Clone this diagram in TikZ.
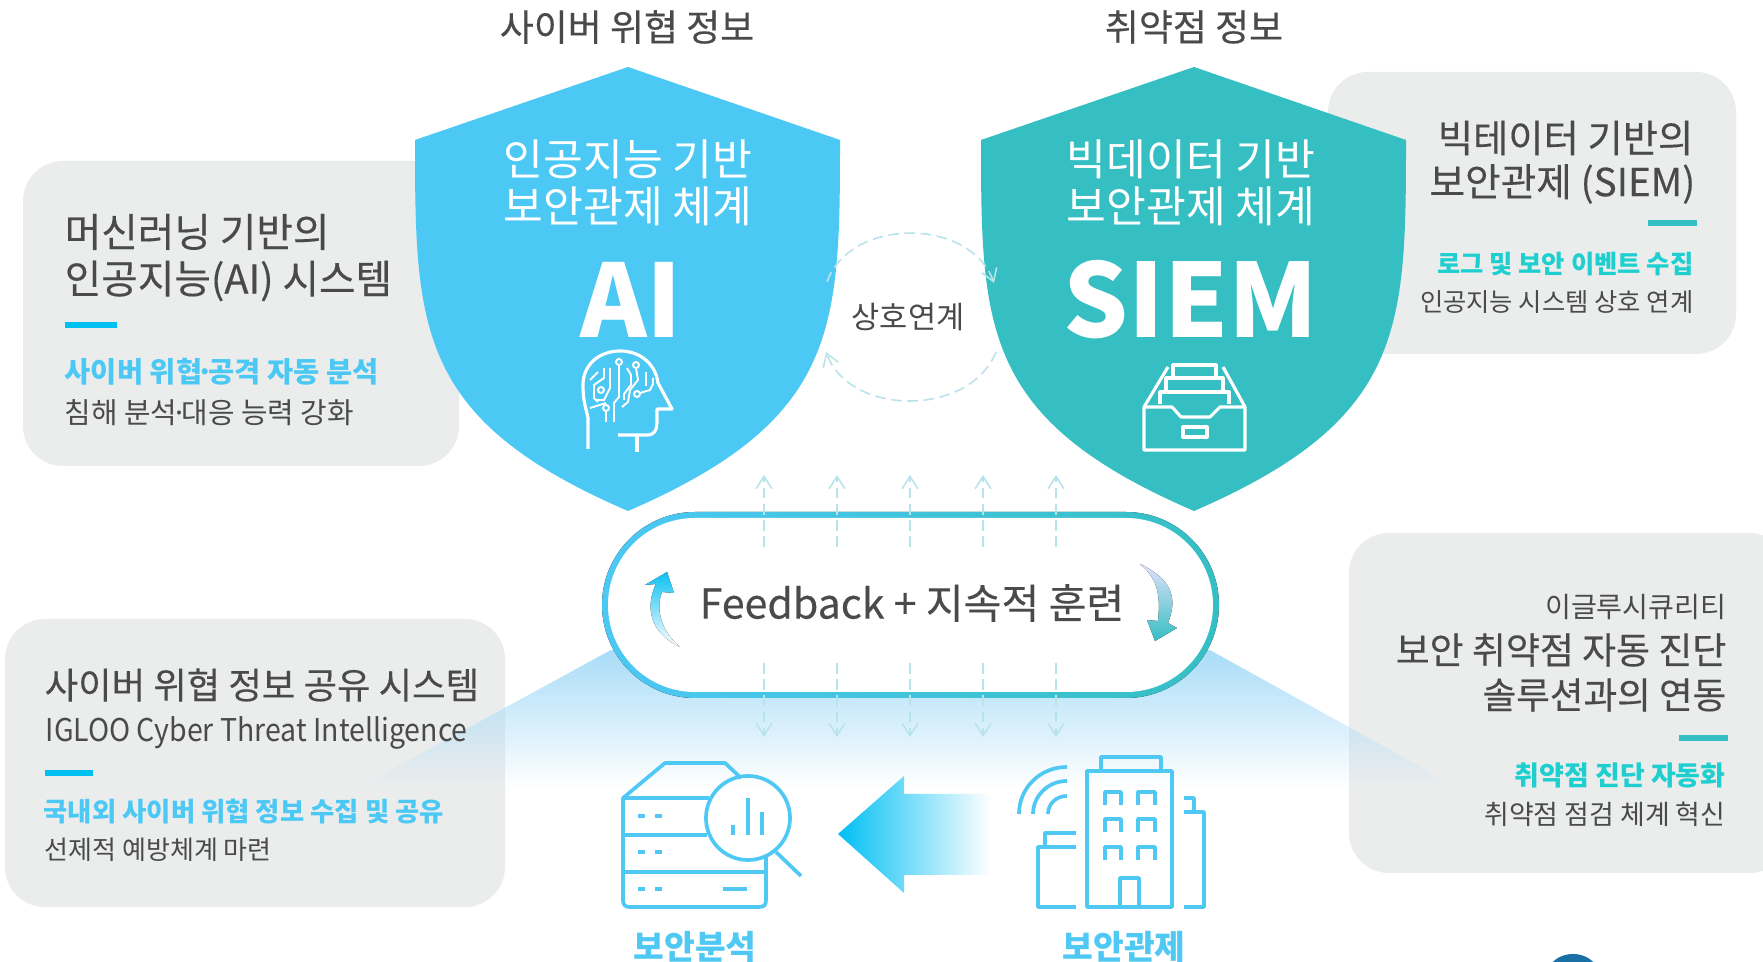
\documentclass[tikz,border=0pt]{standalone}
\usepackage{fontspec}
\setmainfont{Noto Sans CJK KR}
\usepackage{xcolor}
\usetikzlibrary{arrows.meta,fadings}
\definecolor{boxgray}{HTML}{EBEDED}
\definecolor{txtgray}{HTML}{4A4A4A}
\definecolor{aiblue}{HTML}{4CC8F4}
\definecolor{siemteal}{HTML}{35BFC3}
\definecolor{barblue}{HTML}{00BFF3}
\definecolor{subteal}{HTML}{1FCFCF}
\definecolor{iconblue}{HTML}{4FC9F3}
\definecolor{flowteal}{HTML}{B9E3EA}
\definecolor{glowblue}{HTML}{A9DDF8}
\definecolor{dotblue}{HTML}{1A6FA5}
\pgfdeclarehorizontalshading{arrowfade}{100bp}{color(0bp)=(barblue); color(25bp)=(barblue); color(72bp)=(white); color(100bp)=(white)}
\newcommand{\fz}[1]{\fontsize{#1}{#1}\selectfont}
\newcommand{\hv}{\addfontfeatures{FakeBold=0.3}}
\newcommand{\tightdot}{\kern-.2em·\kern-.2em}
\tikzset{
  graybox/.style={fill=boxgray,rounded corners=0.4cm},
  txtleft/.style={anchor=west,inner sep=0pt,text=txtgray},
  txtright/.style={anchor=east,inner sep=0pt,text=txtgray},
  txtmid/.style={inner sep=0pt,text=txtgray},
  txtshield/.style={inner sep=0pt,text=white},
  flowline/.style={flowteal,line width=0.45pt,dash pattern=on 3pt off 1.6pt},
  flowtip/.style={-{Straight Barb[length=3.5pt,width=4.5pt]}},
  icon/.style={iconblue,line width=1.05pt,line join=round},
  iconw/.style={white,line width=0.9pt,line join=round},
  circuit/.style={white,line width=0.55pt}
}
\begin{document}
\begin{tikzpicture}[x=0.01cm,y=-0.01cm]
  \clip (0,0) rectangle (1763,962);
  \fill[white] (0,0) rectangle (1763,962);

  \fill[graybox] (23,161) rectangle (459,466);
  \fill[graybox] (1328,72) rectangle (1736,354);
  \fill[graybox] (1349,533) rectangle (1790,873);
  \fill[graybox] (5,619) rectangle (505,907);
  \fill[glowblue,path fading=south] (611,650) -- (360,787) -- (1457,787) -- (1210,650) -- cycle;

  \fill[aiblue] (628,67) -- (840,140) .. controls (840,330) and (838,420) .. (628,511)
    .. controls (417,420) and (415,330) .. (415,140) -- cycle;
  \fill[siemteal] (1194,67) -- (1406,140) .. controls (1406,330) and (1404,420) .. (1194,511)
    .. controls (983,420) and (981,330) .. (981,140) -- cycle;

  \node[txtmid] (titleAI) at (627,27) {\fz{10.5}\hv 사이버 위협 정보};
  \node[txtmid] (titleSIEM) at (1194,27) {\fz{10.5}\hv 취약점 정보};

  \node[txtshield] (aiOne) at (628,159) {\fz{12.3}인공지능 기반};
  \node[txtshield] (aiTwo) at (628,206) {\fz{12.3}보안관제 체계};
  \node[txtshield] (aiBig) at (631,300) {\fz{28.7}\bfseries AI};
  \node[txtshield] (siemOne) at (1191,159) {\fz{12.3}빅데이터 기반};
  \node[txtshield] (siemTwo) at (1191,206) {\fz{12.3}보안관제 체계};
  \node[txtshield] (siemBig) at (1191,300) {\fz{29}\bfseries SIEM};

  \draw[iconw] (588,449) -- (588,418) .. controls (586,408) and (583,402) .. (583,385)
    .. controls (583,364) and (600,351) .. (620,351) .. controls (642,351) and (656,366) .. (658,383)
    -- (672,409) -- (657,409) -- (657,423) .. controls (657,430) and (654,435) .. (648,435) -- (618,435);
  \draw[iconw] (637,435) -- (637,452);
  \draw[circuit] (619,362) circle[radius=0.03cm];
  \draw[circuit] (636,365) circle[radius=0.03cm];
  \draw[circuit] (637,394) circle[radius=0.03cm];
  \draw[circuit] (606,408) circle[radius=0.03cm];
  \draw[circuit] (601,390) circle[radius=0.03cm];
  \draw[circuit] (619,365) -- (619,397) -- (614,403) -- (614,422);
  \draw[circuit] (606,411) -- (606,422);
  \draw[circuit] (636,368) -- (638,380) -- (630,390) -- (628,402) -- (622,407);
  \draw[circuit] (640,393) -- (650,390) -- (653,384) -- (653,378);
  \draw[circuit] (646,386) -- (646,372);
  \draw[circuit] (627,368) -- (631,375) -- (631,385) -- (624,394) -- (624,400);
  \draw[circuit] (610,368) -- (610,388) -- (604,400) -- (595,400);
  \draw[circuit] (604,368) -- (604,378) -- (594,385) -- (594,398) -- (598,402);
  \draw[circuit] (598,372) -- (590,380);
  \draw[circuit] (590,408) -- (606,403);

  \draw[iconw] (1144,407) -- (1172,407) -- (1181,417) -- (1210,417) -- (1220,407) -- (1245,407)
    -- (1245,450) -- (1144,450) -- cycle;
  \draw[iconw] (1183,427) rectangle (1207,437);
  \draw[iconw] (1144,407) -- (1168,367);
  \draw[iconw] (1245,407) -- (1223,367);
  \draw[iconw] (1173,378) -- (1173,365) -- (1216,365) -- (1216,378);
  \draw[iconw] (1166,392) -- (1166,378) -- (1223,378) -- (1223,392);
  \draw[iconw] (1160,404) -- (1160,392) -- (1229,392) -- (1229,404);

  \fill[left color=aiblue,right color=siemteal,rounded corners=0.93cm] (602,512) rectangle (1219,698);
  \fill[white,rounded corners=0.87cm] (608,518) rectangle (1213,692);

  \foreach \i/\xx in {1/764,2/837,3/910,4/983,5/1056}{
    \coordinate (upS\i) at (\xx,547);
    \coordinate (upE\i) at (\xx,475);
    \coordinate (downS\i) at (\xx,663);
    \coordinate (downE\i) at (\xx,737);
    \draw[flowline,flowtip] (upS\i) -- (upE\i);
    \draw[flowline,flowtip] (downS\i) -- (downE\i);
  }

  \coordinate (loopUL) at (827,282);
  \coordinate (loopUR) at (994,283);
  \coordinate (loopLR) at (996,352);
  \coordinate (loopLL) at (826,352);
  \draw[flowline,flowtip] (loopUL) .. controls (850,217) and (970,217) .. (loopUR);
  \draw[flowline,flowtip] (loopLR) .. controls (970,417) and (850,417) .. (loopLL);
  \node[txtmid] (linkLabel) at (908,317) {\fz{8.7}상호연계};

  \node[txtmid] (feedback) at (912,603) {\fz{11.7}\hv Feedback + 지속적 훈련};
  \fill[top color=barblue!85!aiblue,bottom color=white] (667,572) -- (645,585) -- (656,584)
    .. controls (648,600) and (644,630) .. (680,647) .. controls (662,632) and (655,610) .. (662,592)
    -- (674,593) -- cycle;
  \fill[top color=black!12!blue!12!white,bottom color=siemteal] (1140,564)
    .. controls (1160,580) and (1160,600) .. (1158,621) -- (1147,620) -- (1155,641) -- (1177,628)
    -- (1168,623) .. controls (1177,600) and (1174,580) .. (1140,564) -- cycle;

  \draw[icon] (623,798) -- (665,763) -- (725,763) -- (741,778);
  \draw[icon] (709,798) -- (623,798) -- (623,900) .. controls (623,905) and (625,907) .. (630,907)
    -- (759,907) .. controls (764,907) and (766,905) .. (766,900) -- (766,857);
  \draw[icon] (623,835) -- (707,835);
  \draw[icon] (623,872) -- (766,872);
  \foreach \yy in {816,852,889}{
    \draw[icon] (638,\yy) -- (645,\yy);
    \draw[icon] (655,\yy) -- (662,\yy);
  }
  \draw[icon] (723,889) -- (747,889);
  \draw[icon] (748,818) circle[radius=0.42cm];
  \draw[icon] (776,852) -- (801,876);
  \draw[icon] (733,825) -- (733,835);
  \draw[icon] (748,798) -- (748,835);
  \draw[icon] (762,812) -- (762,835);

  \shade[shading=arrowfade] (838,834) -- (904,776)
    -- (904,794) -- (1000,794) -- (1000,875) -- (904,875) -- (904,893) -- cycle;

  \draw[icon] (1087,907) -- (1087,771) -- (1172,771) -- (1172,907) -- cycle;
  \draw[icon] (1101,771) -- (1101,757) -- (1161,757) -- (1161,771);
  \foreach \yy in {792,819,847}{
    \draw[icon] (1105,\yy+13) -- (1105,\yy) -- (1121,\yy) -- (1121,\yy+13);
    \draw[icon] (1138,\yy+13) -- (1138,\yy) -- (1155,\yy) -- (1155,\yy+13);
  }
  \draw[icon] (1120,907) -- (1120,878) -- (1139,878) -- (1139,907);
  \draw[icon] (1076,907) -- (1038,907) -- (1038,847) -- (1076,847);
  \draw[icon] (1045,847) -- (1045,833) -- (1076,833);
  \draw[icon] (1184,798) -- (1194,798) -- (1194,812) -- (1184,812);
  \draw[icon] (1194,812) -- (1204,812) -- (1204,907) -- (1184,907);
  \draw[icon] (1019,814) .. controls (1019,788) and (1040,767) .. (1067,767);
  \draw[icon] (1033,814) .. controls (1033,796) and (1048,781) .. (1067,781);
  \draw[icon] (1048,814) .. controls (1048,804) and (1056,796) .. (1067,796);

  \node[txtmid,text=iconblue] (labelAnalysis) at (695,947) {\fz{9.5}\bfseries 보안분석};
  \node[txtmid,text=iconblue] (labelMonitor) at (1124,947) {\fz{9.5}\bfseries 보안관제};

  \node[txtleft] (mlOne) at (64,232) {\fz{11.3}\hv 머신러닝 기반의};
  \node[txtleft] (mlTwo) at (64,281) {\fz{11.3}\hv 인공지능(AI) 시스템};
  \fill[barblue] (65,322) rectangle (117,328);
  \node[txtleft,text=aiblue] (mlThree) at (64,372) {\fz{8.1}\bfseries 사이버 위협\tightdot 공격 자동 분석};
  \node[txtleft] (mlFour) at (64,413) {\fz{8.2}침해 분석\tightdot 대응 능력 강화};

  \node[txtright] (bdOne) at (1694,138) {\fz{10.9}\hv 빅테이터 기반의};
  \node[txtright] (bdTwo) at (1696,184) {\fz{11}\hv 보안관제 (SIEM)};
  \fill[siemteal] (1648,220) rectangle (1697,226);
  \node[txtright,text=subteal] (bdThree) at (1694,264) {\fz{7.2}\bfseries 로그 및 보안 이벤트 수집};
  \node[txtright] (bdFour) at (1694,302) {\fz{7.2}인공지능 시스템 상호 연계};

  \node[txtright] (vnOne) at (1727,607) {\fz{8}이글루시큐리티};
  \node[txtright] (vnTwo) at (1727,650) {\fz{10.5}\hv 보안 취약점 자동 진단};
  \node[txtright] (vnThree) at (1727,695) {\fz{10.4}\hv 솔루션과의 연동};
  \fill[siemteal] (1679,735) rectangle (1728,741);
  \node[txtright,text=subteal] (vnFour) at (1726,775) {\fz{7.65}\bfseries 취약점 진단 자동화};
  \node[txtright] (vnFive) at (1726,814) {\fz{7.65}취약점 점검 체계 혁신};

  \node[txtleft] (ctiOne) at (44,685) {\fz{10.35}\hv 사이버 위협 정보 공유 시스템};
  \node[txtleft] (ctiTwo) at (45,733) {\fz{8.9}\addfontfeatures{FakeStretch=0.91}IGLOO Cyber Threat Intelligence};
  \fill[barblue] (45,770) rectangle (93,776);
  \node[txtleft,text=aiblue] (ctiThree) at (43,812) {\fz{7.5}\bfseries 국내외 사이버 위협 정보 수집 및 공유};
  \node[txtleft] (ctiFour) at (44,850) {\fz{7.4}선제적 예방체계 마련};

  \fill[dotblue] (1573,984) circle[radius=0.3cm];
\end{tikzpicture}
\end{document}
